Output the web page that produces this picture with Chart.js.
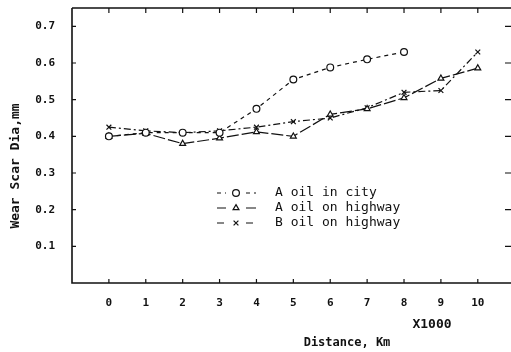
<!DOCTYPE html>
<html>
<head>
<meta charset="utf-8">
<script src="https://cdn.jsdelivr.net/npm/chart.js@4"></script>
<style>
  html, body { margin: 0; padding: 0; background: #fff; }
  #wrap { width: 511px; height: 352px; }
</style>
</head>
<body>
<div id="wrap"><canvas id="c"></canvas></div>
<script>
// distance in thousands of km
const distance = [0, 1, 2, 3, 4, 5, 6, 7, 8, 9, 10];
const cityA    = [0.40, 0.41, 0.41, 0.41, 0.475, 0.555, 0.588, 0.61, 0.63];
const highwayA = [0.40, 0.408, 0.38, 0.395, 0.412, 0.40, 0.46, 0.475, 0.505, 0.558, 0.586];
const highwayB = [0.425, 0.415, 0.41, 0.415, 0.425, 0.44, 0.45, 0.478, 0.52, 0.525, 0.63];
const yTicks   = [0.1, 0.2, 0.3, 0.4, 0.5, 0.6, 0.7];
const legendLabels = ['A oil in city', 'A oil on highway', 'B oil on highway'];

const MONO = '"DejaVu Sans Mono", "Liberation Mono", monospace';
const pts = arr => arr.map((v, i) => ({ x: distance[i], y: v }));

function series(label, vals, style, dash) {
  return {
    label, data: pts(vals),
    borderColor: '#111', borderWidth: 1.2, borderDash: dash,
    pointStyle: style, pointRadius: 3.4, pointBorderWidth: 1.2,
    pointBackgroundColor: '#fff', pointBorderColor: '#111',
    fill: false, tension: 0,
  };
}

// frame, inward ticks, legend, axis titles
const decor = {
  id: 'decor',
  afterDraw(chart) {
    const { ctx, chartArea: a, scales: { x, y } } = chart;
    ctx.save();
    ctx.strokeStyle = '#111';
    ctx.lineWidth = 1.6;
    ctx.beginPath();
    ctx.moveTo(a.left, a.top); ctx.lineTo(a.left, a.bottom); ctx.lineTo(a.right, a.bottom);
    ctx.moveTo(a.left, a.top); ctx.lineTo(a.right, a.top);
    ctx.stroke();
    ctx.lineWidth = 1.2;
    ctx.beginPath();
    distance.forEach(d => {
      const px = x.getPixelForValue(d);
      ctx.moveTo(px, a.bottom); ctx.lineTo(px, a.bottom - 4);
      ctx.moveTo(px, a.top); ctx.lineTo(px, a.top + 5);
    });
    yTicks.forEach(v => {
      const py = y.getPixelForValue(v);
      ctx.moveTo(a.left, py); ctx.lineTo(a.left + 4, py);
      ctx.moveTo(a.right, py); ctx.lineTo(a.right - 6, py);
    });
    ctx.stroke();

    // legend
    ctx.font = '13px ' + MONO;
    ctx.textBaseline = 'middle';
    chart.data.datasets.forEach((ds, i) => {
      const ly = 193 + i * 15;
      ctx.setLineDash(ds.borderDash || []);
      ctx.lineWidth = 1.2;
      ctx.beginPath();
      ctx.moveTo(217, ly); ctx.lineTo(226, ly);
      ctx.moveTo(246, ly); ctx.lineTo(256, ly);
      ctx.stroke();
      ctx.setLineDash([]);
      ctx.fillStyle = '#fff';
      Chart.helpers.drawPoint(ctx, { pointStyle: ds.pointStyle, radius: 3.4, borderWidth: 1.2 }, 236, ly);
      ctx.fillStyle = '#111';
      ctx.fillText(legendLabels[i], 275, ly);
    });

    ctx.font = 'bold 13px ' + MONO;
    ctx.textAlign = 'center';
    ctx.fillText('X1000', 432, 325);
    ctx.font = 'bold 12px ' + MONO;
    ctx.fillText('Distance, Km', 347, 343);
    ctx.font = 'bold 13px ' + MONO;
    ctx.translate(16, 166);
    ctx.rotate(-Math.PI / 2);
    ctx.fillText('Wear Scar Dia,mm', 0, 0);
    ctx.restore();
  }
};

new Chart(document.getElementById('c'), {
  type: 'line',
  data: {
    datasets: [
      series('A oil in city', cityA, 'circle', [4, 4]),
      series('A oil on highway', highwayA, 'triangle', [12, 3]),
      series('B oil on highway', highwayB, 'crossRot', [7, 3, 2, 3]),
    ]
  },
  options: {
    responsive: true,
    maintainAspectRatio: false,
    animation: false,
    layout: { autoPadding: false, padding: { top: 8, right: 0, left: 0, bottom: 0 } },
    plugins: { legend: { display: false }, tooltip: { enabled: false } },
    scales: {
      x: {
        type: 'linear', min: -1, max: 10.9,
        afterFit: s => { s.height = 69; s.paddingLeft = 0; s.paddingRight = 0; },
        afterBuildTicks: s => { s.ticks = distance.map(v => ({ value: v })); },
        grid: { display: false, drawTicks: false },
        border: { display: false },
        ticks: { color: '#111', padding: 14, font: { family: MONO, size: 11, weight: 'bold' } }
      },
      y: {
        min: 0, max: 0.75,
        afterFit: s => { s.width = 72; s.paddingTop = 0; s.paddingBottom = 0; },
        afterBuildTicks: s => { s.ticks = yTicks.map(v => ({ value: v })); },
        grid: { display: false, drawTicks: false },
        border: { display: false },
        ticks: { color: '#111', padding: 17, callback: v => v.toFixed(1),
                 font: { family: MONO, size: 11, weight: 'bold' } }
      }
    }
  },
  plugins: [decor]
});
</script>
</body>
</html>
